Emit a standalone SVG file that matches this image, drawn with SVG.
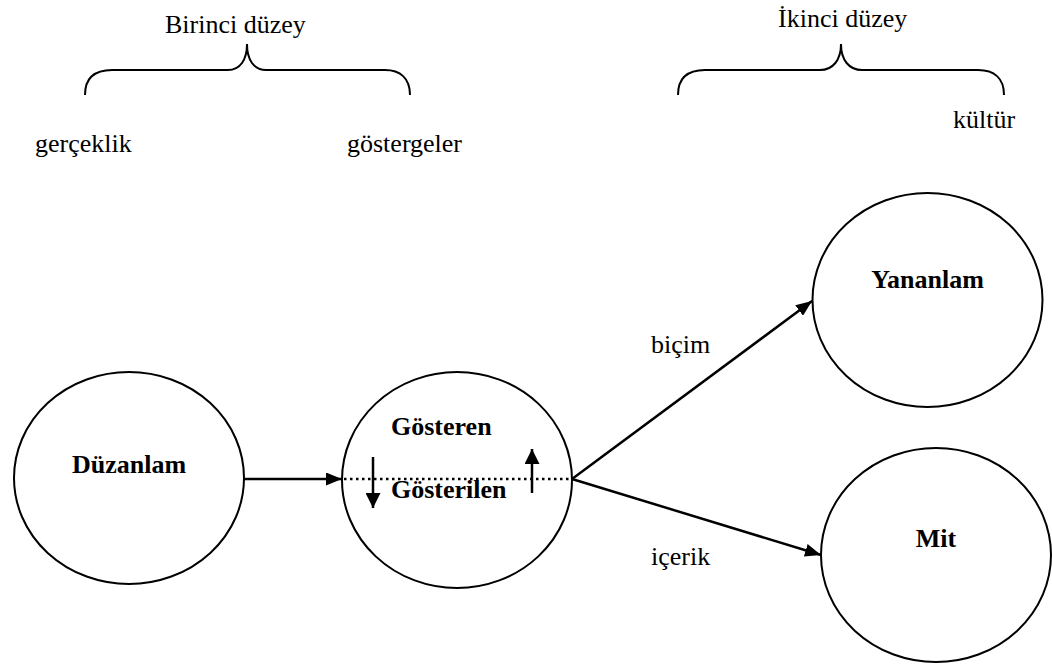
<svg xmlns="http://www.w3.org/2000/svg" width="1052" height="666" viewBox="0 0 1052 666">
<style>
.node{fill:#fff;stroke:#000;stroke-width:2}
.lbl{font-family:"Liberation Serif","Times New Roman",serif;font-size:26px;fill:#000}
.b{font-weight:bold}
.br{fill:none;stroke:#000;stroke-width:2}
.ln{stroke:#000;stroke-width:2.5;fill:none}
.sm{stroke:#000;stroke-width:2.5;fill:none}
</style>
<defs>
<marker id="ah" markerUnits="userSpaceOnUse" markerWidth="16" markerHeight="13" refX="16" refY="6.5" orient="auto">
<path d="M0,0 L16,6.5 L0,13 z" fill="#000"/>
</marker>
<marker id="ahs" markerUnits="userSpaceOnUse" markerWidth="15" markerHeight="15" refX="15" refY="7.5" orient="auto">
<path d="M0,0 L15,7.5 L0,15 z" fill="#000"/>
</marker>
</defs>
<rect width="1052" height="666" fill="#fff"/>
<g id="levels">
<text class="lbl" x="165" y="33">Birinci düzey</text>
<path class="br" d="M85,95 C85,78 95,70 112,70 L228,70 C240,70 247,60 247,44 C247,60 254,70 266,70 L385,70 C400,70 410,78 410,95"/>
<text class="lbl" x="35" y="152">gerçeklik</text>
<text class="lbl" x="347" y="152">göstergeler</text>
<text class="lbl" x="778" y="27">İkinci düzey</text>
<path class="br" d="M678,95 C678,78 688,70 705,70 L820,70 C833,70 841,60 841,44 C841,60 849,70 862,70 L978,70 C994,70 1004,78 1004,95"/>
<text class="lbl" x="953" y="128">kültür</text>
</g>
<g id="node-duzanlam">
<ellipse class="node" cx="129" cy="478" rx="115" ry="106"/>
<text class="lbl b" x="129" y="473" text-anchor="middle">Düzanlam</text>
</g>
<g id="node-gosteren">
<ellipse class="node" cx="457" cy="480" rx="115" ry="108"/>
<text class="lbl b" x="391" y="435">Gösteren</text>
<text class="lbl b" x="391" y="498">Gösterilen</text>
<line x1="344" y1="479" x2="571" y2="479" stroke="#000" stroke-width="2.5" stroke-dasharray="2.5 3.5"/>
<line class="sm" x1="373" y1="457" x2="373" y2="508" marker-end="url(#ahs)"/>
<line class="sm" x1="532" y1="493" x2="532" y2="449" marker-end="url(#ahs)"/>
</g>
<g id="node-yananlam">
<ellipse class="node" cx="927.5" cy="300" rx="115" ry="107"/>
<text class="lbl b" x="927.5" y="288" text-anchor="middle">Yananlam</text>
</g>
<g id="node-mit">
<ellipse class="node" cx="936" cy="555" rx="115" ry="107"/>
<text class="lbl b" x="936" y="547" text-anchor="middle">Mit</text>
</g>
<g id="connectors">
<line class="ln" x1="244" y1="479" x2="342" y2="479" marker-end="url(#ah)"/>
<line class="ln" x1="572" y1="479" x2="812" y2="301" marker-end="url(#ah)"/>
<line class="ln" x1="572" y1="479" x2="821" y2="555" marker-end="url(#ah)"/>
<text class="lbl" x="651" y="353">biçim</text>
<text class="lbl" x="651" y="565">içerik</text>
</g>
</svg>
